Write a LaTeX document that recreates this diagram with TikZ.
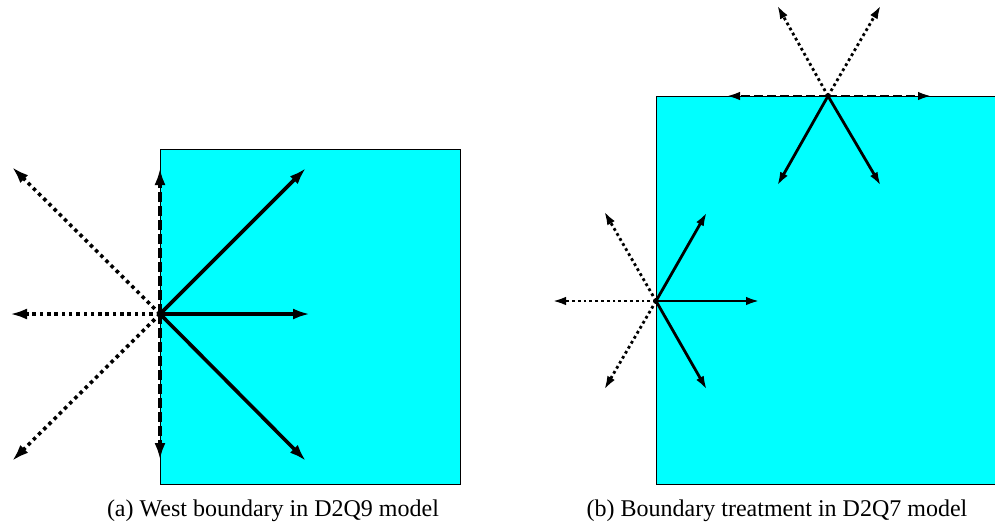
\documentclass[tikz,border=0pt]{standalone}
\usepackage{fontspec}
\setmainfont{Liberation Serif}
\usetikzlibrary{arrows.meta}
\definecolor{aqua}{RGB}{0,255,255}
\begin{document}
\begin{tikzpicture}[x=1pt,y=-1pt,
  fluid/.style={draw=black,line width=0.8pt,fill=aqua},
  solA/.style={line width=3.6pt,-{Latex[length=17pt,width=11pt]}},
  dotA/.style={line width=3.6pt,dash pattern=on 3.5pt off 3.8pt,-{Latex[length=17pt,width=11pt]}},
  dashA/.style={line width=3.6pt,dash pattern=on 10pt off 4pt,-{Latex[length=17pt,width=11pt]}},
  solB/.style={line width=2.8pt,-{Latex[length=14pt,width=8.5pt]}},
  dotB/.style={line width=2.8pt,dash pattern=on 2.8pt off 3pt,-{Latex[length=14pt,width=8.5pt]}},
  dashB/.style={line width=2.8pt,dash pattern=on 9pt off 4pt,-{Latex[length=14pt,width=8.5pt]}},
  captext/.style={font=\fontsize{24}{28}\selectfont,anchor=base}]
\useasboundingbox (0,0) rectangle (995,528);
% (a)
\draw[fluid] (160,149) rectangle (460,484);
\coordinate (A) at (160,314);
\coordinate (Ae) at (310,314);
\coordinate (Ane) at (306,168);
\coordinate (Ase) at (306,461);
\coordinate (An) at (160,168);
\coordinate (As) at (160,460);
\coordinate (Aw) at (10,314);
\coordinate (Anw) at (12,167);
\coordinate (Asw) at (12,461);
\draw[solA] (A) -- (Ae);
\draw[solA] (A) -- (Ane);
\draw[solA] (A) -- (Ase);
\draw[dashA] (A) -- (An);
\draw[dashA] (A) -- (As);
\draw[dotA] (A) -- (Aw);
\draw[dotA] (A) -- (Anw);
\draw[dotA] (A) -- (Asw);
\node[captext] (capa) at (273,516) {(a) West boundary in D2Q9 model};
% (b)
\draw[fluid] (656,96) rectangle (995,484);
\coordinate (T) at (828,96);
\coordinate (Te) at (932,96);
\coordinate (Tw) at (726,96);
\coordinate (Tnw) at (777,5);
\coordinate (Tne) at (881,5);
\coordinate (Tsw) at (777,186);
\coordinate (Tse) at (881,186);
\draw[dashB] (T) -- (Te);
\draw[dashB] (T) -- (Tw);
\draw[dotB] (T) -- (Tnw);
\draw[dotB] (T) -- (Tne);
\draw[solB] (T) -- (Tsw);
\draw[solB] (T) -- (Tse);
\coordinate (W) at (656,301);
\coordinate (We) at (760,301);
\coordinate (Wne) at (707,212);
\coordinate (Wse) at (707,390);
\coordinate (Ww) at (552,301);
\coordinate (Wnw) at (604,211);
\coordinate (Wsw) at (604,390);
\draw[solB] (W) -- (We);
\draw[solB] (W) -- (Wne);
\draw[solB] (W) -- (Wse);
\draw[dotB] (W) -- (Ww);
\draw[dotB] (W) -- (Wnw);
\draw[dotB] (W) -- (Wsw);
\node[captext] (capb) at (777,516) {(b) Boundary treatment in D2Q7 model};
\end{tikzpicture}
\end{document}
